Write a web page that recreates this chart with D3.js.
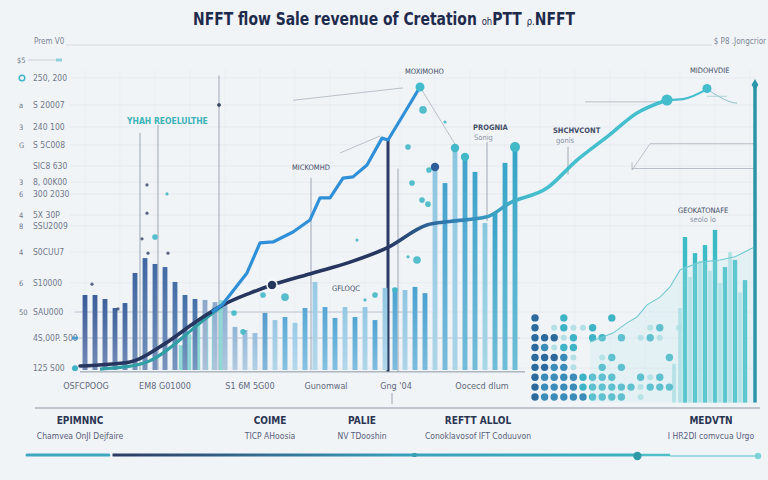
<!DOCTYPE html>
<html><head><meta charset="utf-8">
<script src="https://cdn.jsdelivr.net/npm/d3@7/dist/d3.min.js"></script>
<style>html,body{margin:0;padding:0;background:#f1f4f7;}svg{display:block;}</style>
</head><body><svg id="c" width="768" height="480"></svg>
<script>
// ---------------- DATA ----------------
const titleMain = "NFFT flow Sale revenue of Cretation ";
const titleSmall1 = "oh";
const titleMid = "PTT ";
const titleSmall2 = "ρ.";
const titleEnd = "NFFT";
const cornerLeft = "Prem V0";
const cornerRight = "$ P8 .Jongcrior";

const yTickLabels   = ["250, 200","S 20007","240 100","S 5C008","SIC8 630","8, 00K00","300 2030","5X 30P","SSU2009","S0CUU7","S10000","SAU000","4S,00P. 500","125 S00"];
const yTickPrefixes = ["","a","3","G","","3","6","4","8","4","6","50","",""];
const yTickValues   = [94.2,85.5,78.4,72.6,65.8,60.6,56.8,50,46.5,38.1,28.1,18.7,10.3,0.6];

// main bar series: index position -> value
const barValues = [24.2,24.2,22.9,20.0,21.6,31.3,36.1,34.2,33.2,28.4,24.2,22.9,22.6,21.9,21.0,
                   13.9,12.9,11.9,18.4,16.1,17.1,15.2,20.0,28.4,20.3,16.8,20.3,17.1,20.3,16.1,
                   26.5,26.5,25.8,26.8,24.8,65.5,60.3,71.6,68.7,63.9,47.4,50.6,66.8,71.9];
const barKinds  = ["S","S","S","S","S","S","S","S","S","S","S","S","L","L","L",
                   "L","L","L","S","L","S","L","S","L","S","S","L","S","L","S",
                   "L","S","L","S","S","L","S","L","S","S","L","S","S","S"];
const barMarked = [35,37,38,43];
const markedKinds = ["D","T","T","T"];

// light creation bars in the sigmoid area
const creationPos  = [9.6,10.4,11.3,12.1,12.9,13.6];
const creationVals = [8.0,11.5,14.5,17.5,20.5,22.5];

// right cluster
const rightPos  = [60,61,62,63,64,65,66];
const rightVals = [42.9,37.7,40.3,45.2,33.2,35.5,29.0];
const rightLightPos  = [58.9,59.5,60.5,61.5,62.5,63.5,64.5,65.5];
const rightLightVals = [2,20,30,35,32,28,38,25];
const RIGHT_BASE = -10.5;
const markerLineTop = 92;

// lines
const blueLine = [[12.7,18.7],[13.7,21.0],[16.2,31.3],[17.5,41.0],[18.8,41.3],[20.8,44.5],[22.5,48.4],[23.5,55.5],[24.5,55.5],[25.8,61.9],[26.8,62.3],[28.2,66.1],[29.7,74.8],[30.3,74.2],[31.7,81.6],[33.5,91.3]];
const navyLine = [[-0.5,1.3],[4.5,2.6],[7.8,8.1],[11.2,15.8],[13.8,21.0],[16.5,24.8],[18.7,27.4],[22.8,31.3],[26.5,34.8],[30.2,39.4],[34.2,46.8],[36.5,47.9],[40.2,49.4],[42.5,53.9],[46.2,58.7],[49.2,67.7],[52.2,75.2],[55.2,82.9],[58.2,87.1]];
const tailLine = [[58.2,87.1],[59.8,87.4],[62.2,90.6]];
const tealCurve = [[1.5,0.3],[4.5,1.0],[6.5,2.6],[8.0,5.8],[9.5,9.7],[11.0,13.9],[12.5,17.7],[13.7,20.6]];
const thinTeal = [[50.5,9.0],[51.5,10.3],[52.8,11.9],[54.2,15.2],[55.2,17.1],[56.2,21.0],[57.5,23.5],[58.5,26.8],[59.5,32.3],[61.5,34.8],[63.5,35.5],[65.0,36.5],[66.8,39.4]];
const lineDots = [[18.7,27.4,"N"],[33.5,91.3,"T"],[58.2,87.1,"B"],[62.2,90.8,"T"]];

// scattered dots [x, value, size, kind]
const scatter = [[7.0,42.9,2,"T"],[8.2,56.8,1,"T"],[6.2,59.7,1,"D"],[6.2,50.6,1,"D"],[5.7,42.3,1,"D"],[6.3,37.7,1,"D"],[8.3,37.7,1,"D"],[0.7,27.7,1,"D"],[3.3,19.7,1,"D"],
  [33.8,83.9,3,"T"],[32.3,71.9,2,"T"],[32.7,60.3,2,"T"],[34.3,53.5,2,"T"],[27.2,41.9,1,"T"],[33.2,35.5,3,"T"],[32.3,36.5,1,"T"],[29.0,24.2,2,"T"],[28.0,22.6,1,"T"],
  [20.0,23.5,3,"T"],[17.8,24.2,2,"T"],[14.9,18.4,2,"T"],[15.8,12.3,2,"T"],[31.0,25.8,2,"T"],[36.0,80.0,1,"T"],[13.4,85.5,1,"D"],[34.4,64.5,2,"T"],[33.7,54.8,2,"T"]];

// dot matrix (rows top->bottom)
const dotGrid = ["D..T....T.......",
                 "D.LTLLT.....LT.L",
                 "DDDLT.TT.T.LTL..",
                 "DBLTT...........",
                 "DDDBL..LT.....T.",
                 "DDBBL..T.T......",
                 "DBBBBTTTT..TLT..",
                 "DBBBBTTTTTTLTTT.",
                 "DBBBBBTTTT.L...."];

// in-chart annotations [x, value, text, kind]
const annotations = [[4.2,79.4,"YHAH REOELULTHE","teal"],[20.7,64.5,"MICKOMHD","dark"],[32.0,95.5,"MOXIMOHO","dark"],
  [38.8,77.5,"PROGNIA","bold"],[38.9,74.2,"Sonig","sub"],[46.8,76.5,"SHCHVCONT","bold"],[47.1,73.2,"gonis","sub"],
  [60.5,95.8,"MIDOHVDIE","dark"],[59.3,50.5,"GEOKATONAFE","dark"],[60.5,47.6,"seolo lo","sub"],[24.7,25.5,"GFLOQC","dark"]];

// vertical guide lines [x, fromValue, toValue, kind]
const guides = [[5.5,76.5,0,"thin"],[7.3,79,0,"thin"],[13.4,95,0,"thin"],[22.6,62,0,"thin"],[30.3,74.2,-0.6,"navy"],[31.3,65,-0.6,"thin"],[40.2,73.5,48,"thin"],[48.3,72,63,"thin"]];

const xLabels = ["OSFCPOOG","EM8 G01000","S1 6M 5G00","Gunomwal","Gng '04","Oocecd dlum"];
const xLabelAt = [0.1,8.0,16.5,24.1,31.1,39.7];

const categories = ["EPIMNNC","COIME","PALIE","REFTT ALLOL","MEDVTN"];
const categoryNotes = ["Chamvea OnJI Dejfaire","TICP AHoosia","NV TDooshin","Conoklavosof IFT Coduuvon","I HR2DI comvcua Urgo"];
const categoryAt = [-0.5,18.5,27.7,39.3,62.6];

// ---------------- DRAW ----------------
const W = 768, H = 480;
const svg = d3.select("#c");
const FONT = "'Liberation Sans Narrow','DejaVu Sans Condensed','Liberation Sans',sans-serif";
const x = d3.scaleLinear().domain([0, 67]).range([85, 755]);
const y = d3.scaleLinear().domain([0, 100]).range([370, 60]);
const barColor = d3.scaleLinear().domain([0, 12, 20, 34, 43]).range(["#3b5c99","#4572aa","#5aaad6","#4aa1cf","#35a5c6"]);
const lighten = c => d3.interpolateRgb(c, "#ffffff")(0.38);
const dotColor = d3.scaleOrdinal().domain(["D","B","T","L"]).range(["#2c6a9e","#3b8cb8","#3fb4c6","#a8dce2"]);
const sizeR = d3.scaleOrdinal().domain([1,2,3]).range([1.6,2.8,3.8]);

svg.append("rect").attr("width",W).attr("height",H).attr("fill","#f1f4f7");

const defs = svg.append("defs");
const g1 = defs.append("linearGradient").attr("id","navyTeal").attr("gradientUnits","userSpaceOnUse")
  .attr("x1",x(30)).attr("x2",x(45)).attr("y1",0).attr("y2",0);
g1.append("stop").attr("offset",0).attr("stop-color","#26365f");
g1.append("stop").attr("offset",0.45).attr("stop-color","#2f7fb5");
g1.append("stop").attr("offset",1).attr("stop-color","#45bfce");
const g2 = defs.append("linearGradient").attr("id","tl").attr("gradientUnits","userSpaceOnUse")
  .attr("x1",113).attr("x2",640).attr("y1",0).attr("y2",0);
g2.append("stop").attr("offset",0).attr("stop-color","#2c3a62");
g2.append("stop").attr("offset",0.55).attr("stop-color","#3a9fbf");
g2.append("stop").attr("offset",1).attr("stop-color","#3cb3be");
const g3 = defs.append("linearGradient").attr("id","barFade").attr("x1",0).attr("x2",0).attr("y1",0).attr("y2",1);
g3.append("stop").attr("offset",0).attr("stop-color","#fff").attr("stop-opacity",0);
g3.append("stop").attr("offset",1).attr("stop-color","#fff").attr("stop-opacity",0.28);

// grid
const grid = svg.append("g");
grid.selectAll("line.h").data(yTickValues).join("line")
  .attr("x1",70).attr("x2",x(67)).attr("y1",d=>y(d)).attr("y2",d=>y(d))
  .attr("stroke","#e2e7ed").attr("stroke-width",0.8);
grid.selectAll("line.v").data(d3.range(0,68,3.5)).join("line")
  .attr("x1",d=>x(d)).attr("x2",d=>x(d)).attr("y1",y(97)).attr("y2",y(0))
  .attr("stroke","#e6eaf0").attr("stroke-width",0.7);
[[18.7,-1,34],[10.3,-1,43.5]].forEach(r=>{
  svg.append("line").attr("x1",x(r[1])).attr("x2",x(r[2])).attr("y1",y(r[0])).attr("y2",y(r[0]))
    .attr("stroke","#b9c2cd").attr("stroke-width",0.9);
});

// header (horizontally condensed title)
svg.append("g").attr("transform",`translate(${W/2},25) scale(0.86,1)`)
  .append("text").attr("x",0).attr("y",0).attr("text-anchor","middle")
  .attr("font-family",FONT).attr("font-size",18).attr("font-weight",600).attr("fill","#1f2b4d")
  .call(t=>{
    t.append("tspan").text(titleMain);
    t.append("tspan").attr("font-size",11).attr("font-weight",400).text(titleSmall1);
    t.append("tspan").text(titleMid);
    t.append("tspan").attr("font-size",11).attr("font-weight",400).text(titleSmall2);
    t.append("tspan").text(titleEnd);
  });
svg.append("text").attr("x",34).attr("y",44).attr("font-family",FONT).attr("font-size",8).attr("fill","#7b8496").text(cornerLeft);
svg.append("text").attr("x",766).attr("y",44).attr("text-anchor","end").attr("font-family",FONT).attr("font-size",8).attr("fill","#7b8496").text(cornerRight);
svg.append("line").attr("x1",66).attr("x2",712).attr("y1",45).attr("y2",45).attr("stroke","#cdd4dc").attr("stroke-width",0.8);

// y labels
const yl = svg.append("g").attr("font-family",FONT).attr("font-size",8.5).attr("fill","#6f7889");
yl.selectAll("text.v").data(yTickLabels).join("text").attr("x",33).attr("y",(d,i)=>y(yTickValues[i])+3).text(d=>d);
yl.selectAll("text.p").data(yTickPrefixes).join("text").attr("x",19).attr("y",(d,i)=>y(yTickValues[i])+3).attr("font-size",7.5).text(d=>d);
yl.append("text").attr("x",17).attr("y",y(100)+3).attr("font-size",7.5).text("$5");
svg.append("line").attr("x1",28).attr("x2",58).attr("y1",y(100)).attr("y2",y(100)).attr("stroke","#b8c0ca").attr("stroke-width",0.7);
svg.append("rect").attr("x",56).attr("y",y(100)-1.5).attr("width",6).attr("height",3).attr("fill","#8fd0dc");
svg.append("circle").attr("cx",22).attr("cy",y(yTickValues[0])).attr("r",2.8).attr("fill","none").attr("stroke","#3fb4c6").attr("stroke-width",1.4);
svg.append("rect").attr("x",72).attr("y",y(10.3)-1.5).attr("width",6).attr("height",3).attr("fill","#4a9fd0");
svg.append("circle").attr("cx",75).attr("cy",y(0.6)).attr("r",3).attr("fill","#3fb4c6");

// vertical guides
svg.selectAll("line.g").data(guides).join("line")
  .attr("x1",d=>x(d[0])).attr("x2",d=>x(d[0])).attr("y1",d=>y(d[1])).attr("y2",d=>y(d[2]))
  .attr("stroke",d=>d[3]==="navy"?"#2a3b66":"#8a94a3")
  .attr("stroke-width",d=>d[3]==="navy"?3:0.8);
svg.append("circle").attr("cx",x(13.4)).attr("cy",y(85.5)).attr("r",1.8).attr("fill","#333d55");

// thin connector lines
const conn = [[[20.8,87],[31.8,91]],[[25.5,70],[29.5,75.5]],[[33.5,91.3],[37.2,71.8]],[[50,86.5],[57.5,86.5]],
  [[54.7,67],[54.7,64.5],[56.5,73],[67,73]],[[54.7,65],[67,65]]];
conn.forEach(c=>{
  svg.append("path").attr("d",d3.line().x(d=>x(d[0])).y(d=>y(d[1]))(c))
   .attr("fill","none").attr("stroke","#a9b2bd").attr("stroke-width",0.8);
});
const tailConn = [[62.2,90.6],[63.2,88.5],[64.5,86.3],[65.2,86.1]];
svg.append("path").attr("d",d3.line().x(d=>x(d[0])).y(d=>y(d[1])).curve(d3.curveBasis)(tailConn))
  .attr("fill","none").attr("stroke","#7fb9c4").attr("stroke-width",0.9);
svg.append("line").attr("x1",x(62.2)).attr("x2",x(64.2)).attr("y1",y(88.3)).attr("y2",y(88.3)).attr("stroke","#9fc9d0").attr("stroke-width",0.8);

// creation bars (behind)
svg.selectAll("rect.cr").data(creationVals).join("rect")
  .attr("x",(d,i)=>x(creationPos[i])-2.2).attr("width",4.4)
  .attr("y",d=>y(d)).attr("height",d=>y(0)-y(d)).attr("fill","#7fd3cf").attr("opacity",0.85);

// main bars
svg.selectAll("rect.b").data(barValues).join("rect")
  .attr("x",(d,i)=>x(i)-2.4).attr("width",4.8)
  .attr("y",d=>y(d)).attr("height",d=>y(0)-y(d))
  .attr("fill",(d,i)=>barKinds[i]==="L"?lighten(barColor(i)):barColor(i));
svg.selectAll("rect.bf").data(barValues).join("rect")
  .attr("x",(d,i)=>x(i)-2.4).attr("width",4.8)
  .attr("y",d=>y(d)).attr("height",d=>y(0)-y(d)).attr("fill","url(#barFade)");

// right cluster
svg.selectAll("rect.rl").data(rightLightVals).join("rect")
  .attr("x",(d,i)=>x(rightLightPos[i])-1.8).attr("width",3.6)
  .attr("y",d=>y(d)).attr("height",d=>y(RIGHT_BASE)-y(d)).attr("fill","#9fdde0").attr("opacity",0.8);
svg.selectAll("rect.r").data(rightVals).join("rect")
  .attr("x",(d,i)=>x(rightPos[i])-2.2).attr("width",4.4)
  .attr("y",d=>y(d)).attr("height",d=>y(RIGHT_BASE)-y(d)).attr("fill","#3dbcc6");
svg.append("line").attr("x1",x(67)).attr("x2",x(67)).attr("y1",y(markerLineTop)).attr("y2",y(RIGHT_BASE))
  .attr("stroke","#2b96a8").attr("stroke-width",3.5);
svg.append("path").attr("d",d3.symbol(d3.symbolDiamond,40)()).attr("transform",`translate(${x(67)},${y(markerLineTop)})`).attr("fill","#2b96a8");

// axis baselines
svg.append("line").attr("x1",80).attr("x2",x(44)).attr("y1",y(-0.6)).attr("y2",y(-0.6)).attr("stroke","#8c96a4").attr("stroke-width",1);
svg.append("line").attr("x1",x(30.7)).attr("x2",x(30.7)).attr("y1",y(-7.4)).attr("y2",y(-11)).attr("stroke","#8c96a4").attr("stroke-width",0.8);

// dot grid
const gc = d3.scalePoint().domain(d3.range(16)).range([x(45), x(59.4)]);
const gr = d3.scalePoint().domain(d3.range(dotGrid.length)).range([y(16.8), y(-8.7)]);
const cells = [];
dotGrid.forEach((row,ri)=>row.split("").forEach((ch,ci)=>{ if(ch!==".") cells.push({r:ri,c:ci,k:ch}); }));
svg.selectAll("circle.grid").data(cells).join("circle")
  .attr("cx",d=>gc(d.c)).attr("cy",d=>gr(d.r)).attr("r",d=>d.k==="L"?3:3.7)
  .attr("fill",d=>dotColor(d.k)).attr("opacity",d=>d.k==="L"?0.85:1);

// thin teal line + faint area
svg.append("path").datum(thinTeal)
  .attr("d",d3.area().x(d=>x(d[0])).y0(y(RIGHT_BASE)).y1(d=>y(d[1])).curve(d3.curveMonotoneX))
  .attr("fill","#bfe7ea").attr("opacity",0.25);
svg.append("path").datum(thinTeal)
  .attr("d",d3.line().x(d=>x(d[0])).y(d=>y(d[1])).curve(d3.curveLinear))
  .attr("fill","none").attr("stroke","#6fcad2").attr("stroke-width",1.1);

// lines
svg.append("path").datum(tealCurve)
  .attr("d",d3.line().x(d=>x(d[0])).y(d=>y(d[1])).curve(d3.curveBasis))
  .attr("fill","none").attr("stroke","#2f9ea5").attr("stroke-width",3.2);
svg.append("path").datum(navyLine)
  .attr("d",d3.line().x(d=>x(d[0])).y(d=>y(d[1])).curve(d3.curveMonotoneX))
  .attr("fill","none").attr("stroke","url(#navyTeal)").attr("stroke-width",3.6).attr("stroke-linecap","round");
svg.append("path").datum(tailLine)
  .attr("d",d3.line().x(d=>x(d[0])).y(d=>y(d[1])).curve(d3.curveMonotoneX))
  .attr("fill","none").attr("stroke","#45bfce").attr("stroke-width",2.2);
svg.append("path").datum(blueLine)
  .attr("d",d3.line().x(d=>x(d[0])).y(d=>y(d[1])).curve(d3.curveLinear))
  .attr("fill","none").attr("stroke","#2f90d8").attr("stroke-width",3.2).attr("stroke-linejoin","round");

// scattered dots
svg.selectAll("circle.s").data(scatter).join("circle")
  .attr("cx",d=>x(d[0])).attr("cy",d=>y(d[1])).attr("r",d=>sizeR(d[2]))
  .attr("fill",d=>d[3]==="D"?"#3b4a6a":"#43b8c6").attr("opacity",d=>d[3]==="D"?0.85:0.9);

// bar-top markers
svg.selectAll("circle.m").data(barMarked).join("circle")
  .attr("cx",d=>x(d)).attr("cy",d=>y(barValues[d])).attr("r",(d,i)=>i===3?5:4.2)
  .attr("fill",(d,i)=>markedKinds[i]==="D"?"#2d5f9a":"#43b8c6");

// line dots
svg.selectAll("circle.ld").data(lineDots).join("circle")
  .attr("cx",d=>x(d[0])).attr("cy",d=>y(d[1])).attr("r",d=>d[2]==="B"?5.5:(d[2]==="N"?5:4.5))
  .attr("fill",d=>d[2]==="N"?"#25365f":"#43bccc")
  .attr("stroke",d=>d[2]==="N"?"#ffffff":"none").attr("stroke-width",1.5);

// annotations
svg.selectAll("text.a").data(annotations).join("text")
  .attr("x",d=>x(d[0])).attr("y",d=>y(d[1])).attr("font-family",FONT)
  .attr("font-size",d=>d[3]==="teal"?8.5:7.5)
  .attr("font-weight",d=>d[3]==="bold"||d[3]==="teal"?700:400)
  .attr("fill",d=>d[3]==="teal"?"#3bb3b8":(d[3]==="sub"?"#8a93a3":"#444e66"))
  .text(d=>d[2]);

// x labels
svg.selectAll("text.x").data(xLabels).join("text")
  .attr("x",(d,i)=>x(xLabelAt[i])).attr("y",389).attr("text-anchor","middle")
  .attr("font-family",FONT).attr("font-size",9).attr("fill","#5e687b").text(d=>d);

// separator
svg.append("line").attr("x1",35).attr("x2",760).attr("y1",408).attr("y2",408).attr("stroke","#8f98a6").attr("stroke-width",1);

// categories
svg.selectAll("text.c").data(categories).join("text")
  .attr("x",(d,i)=>x(categoryAt[i])).attr("y",424).attr("text-anchor","middle")
  .attr("font-family",FONT).attr("font-size",10).attr("font-weight",700).attr("fill","#2a3552").text(d=>d);
svg.selectAll("text.cn").data(categoryNotes).join("text")
  .attr("x",(d,i)=>x(categoryAt[i])).attr("y",439).attr("text-anchor","middle")
  .attr("font-family",FONT).attr("font-size",8.5).attr("fill","#56607a").text(d=>d);

// timeline
const tl = d3.scaleLinear().domain([0,1]).range([27,758]);
const tlStops = [0,0.112,0.117,0.53,0.835,0.88,1];
svg.append("line").attr("x1",tl(tlStops[0])).attr("x2",tl(tlStops[1])).attr("y1",455).attr("y2",455).attr("stroke","#3fa6c2").attr("stroke-width",3).attr("stroke-linecap","round");
svg.append("line").attr("x1",tl(tlStops[2])).attr("x2",tl(tlStops[4])).attr("y1",455).attr("y2",455).attr("stroke","url(#tl)").attr("stroke-width",3);
svg.append("line").attr("x1",tl(tlStops[4])).attr("x2",tl(tlStops[5])).attr("y1",455).attr("y2",455).attr("stroke","#4fc0c8").attr("stroke-width",2.5);
svg.append("line").attr("x1",tl(tlStops[5])).attr("x2",tl(tlStops[6])).attr("y1",456).attr("y2",456).attr("stroke","#80d3d8").attr("stroke-width",1.4);
svg.append("rect").attr("x",tl(tlStops[3])-2).attr("y",453).attr("width",4).attr("height",4).attr("fill","#3a9fb0");
svg.append("circle").attr("cx",tl(tlStops[4])).attr("cy",456).attr("r",4.2).attr("fill","#2d9aa8");
svg.append("circle").attr("cx",tl(tlStops[6])).attr("cy",456).attr("r",3.2).attr("fill","#7fd3d8");
</script></body></html>
